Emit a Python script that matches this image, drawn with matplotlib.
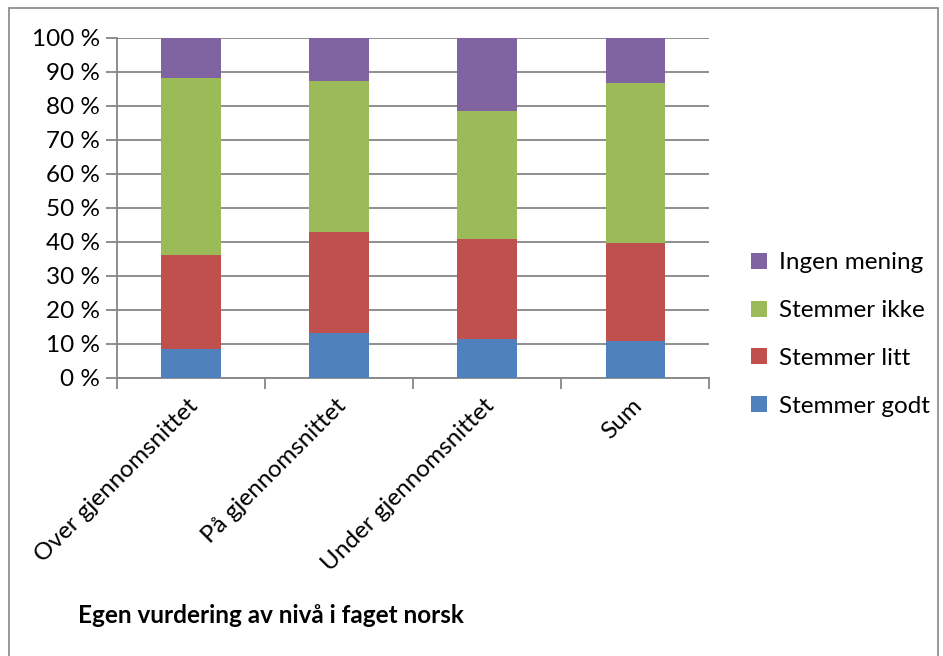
import numpy as np
import matplotlib.pyplot as plt
from matplotlib.patches import Rectangle
from matplotlib.transforms import offset_copy

plt.rcParams['font.family'] = ['Lato', 'DejaVu Sans']

categories = ['Over gjennomsnittet', 'På gjennomsnittet', 'Under gjennomsnittet', 'Sum']
series = ['Stemmer godt', 'Stemmer litt', 'Stemmer ikke', 'Ingen mening']
stemmer_godt = [8.4, 13.3, 11.3, 10.8]
stemmer_litt = [27.7, 29.5, 29.6, 28.8]
stemmer_ikke = [52.0, 44.5, 37.5, 47.0]
ingen_mening = [11.9, 12.7, 21.6, 13.4]
colors = ['#4F81BD', '#C0504D', '#9BBB59', '#8064A2']

fig = plt.figure(figsize=(9.43, 6.56), dpi=100)
ax = fig.add_axes([0.124, 0.4242, 0.628, 0.5183])

# outer chart frame
fig.patches.append(Rectangle((0.0095, -0.05), 0.985, 1.038, transform=fig.transFigure,
                             fill=False, edgecolor='#868686', linewidth=1.2))

x = np.arange(len(categories))
bottom = np.zeros(len(categories))
handles = []
for name, vals, c in zip(series, [stemmer_godt, stemmer_litt, stemmer_ikke, ingen_mening], colors):
    vals = np.array(vals)
    h = ax.bar(x, vals, width=0.4, bottom=bottom, color=c, label=name, zorder=3)
    handles.append(h)
    bottom += vals

ax.set_xlim(-0.5, len(categories) - 0.5)
ax.set_ylim(0, 100)
ax.set_yticks(np.arange(0, 101, 10))
ax.set_yticklabels(['%d %%' % v for v in range(0, 101, 10)], fontsize=17.5)
ax.yaxis.grid(True, color='#868686', linewidth=1.3, zorder=0)
ax.tick_params(axis='y', length=8, width=1.3, color='#868686', pad=4)

# category boundary ticks on the x axis
ax.set_xticks(np.arange(-0.5, len(categories), 1.0), minor=False)
ax.set_xticklabels([])
ax.set_xticks(x, minor=True)
ax.tick_params(axis='x', which='major', length=8, width=1.3, color='#868686')
ax.tick_params(axis='x', which='minor', length=0)
ax.set_xticklabels([], minor=True)

# rotated category labels, right end just past the bar centre
lab_tr = offset_copy(ax.get_xaxis_transform(), fig=fig, x=4, y=-25, units='dots')
for xi, name in zip(x, categories):
    ax.text(xi, 0, name, transform=lab_tr, rotation=45, ha='right', va='center',
            rotation_mode='anchor', fontsize=17.5)

for s in ['top', 'right']:
    ax.spines[s].set_visible(False)
for s in ['left', 'bottom']:
    ax.spines[s].set_color('#868686')
    ax.spines[s].set_linewidth(1.3)

ax.legend(handles[::-1], series[::-1], loc='center left', bbox_to_anchor=(1.034, 0.127),
          frameon=False, fontsize=17.5, handlelength=0.65, handleheight=0.65,
          handletextpad=0.5, labelspacing=1.1)

fig.text(0.083, 0.062, 'Egen vurdering av nivå i faget norsk', fontsize=17.5,
         fontweight='bold', ha='left', va='center')

fig.savefig('out.png', dpi=100)
